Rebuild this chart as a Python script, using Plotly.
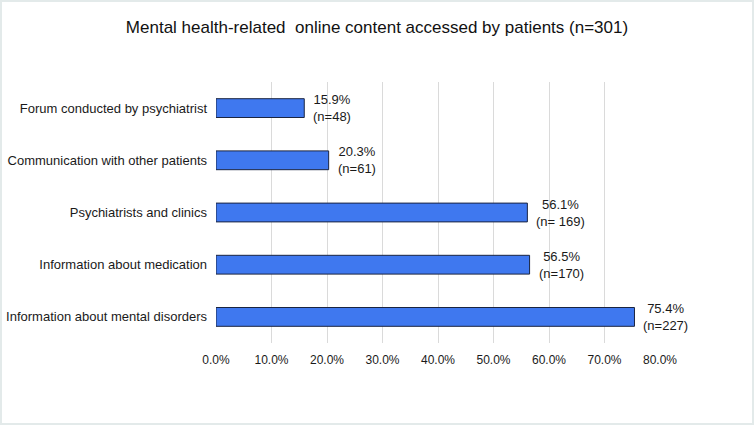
import plotly.graph_objects as go

categories = [
    "Information about mental disorders",
    "Information about medication",
    "Psychiatrists and clinics",
    "Communication with other patients",
    "Forum conducted by psychiatrist",
]
percent = [75.4, 56.5, 56.1, 20.3, 15.9]
counts = ["n=227", "n=170", "n= 169", "n=61", "n=48"]
x_ticks = [0, 10, 20, 30, 40, 50, 60, 70, 80]
x_ticklabels = ["0.0%", "10.0%", "20.0%", "30.0%", "40.0%", "50.0%", "60.0%", "70.0%", "80.0%"]

W, H = 754, 425
ML, MR, MT, MB = 216, 94, 82, 82

fig = go.Figure()
fig.add_trace(go.Bar(
    y=categories, x=percent, orientation="h",
    marker=dict(color="#3f78ef", line=dict(color="#1a2440", width=1)),
    width=0.36,
    hoverinfo="skip",
    cliponaxis=False,
))

for c, p, n in zip(categories, percent, counts):
    fig.add_annotation(
        x=p, y=c, xref="x", yref="y",
        text=f"{p:.1f}%<br>({n})",
        showarrow=False, xanchor="left", yanchor="middle",
        xshift=7, align="center",
        font=dict(family="Liberation Sans, Arial", size=13, color="#1a1a1a"),
    )

pw = W - ML - MR
ph = H - MT - MB
fig.add_shape(
    type="rect", xref="paper", yref="paper",
    x0=-(ML - 1) / pw, x1=1 + (MR - 1) / pw,
    y0=-(MB - 1) / ph, y1=1 + (MT - 1) / ph,
    line=dict(color="#e3eaea", width=2), layer="below",
)

fig.update_layout(
    width=W, height=H,
    margin=dict(l=ML, r=MR, t=MT, b=MB, autoexpand=False),
    paper_bgcolor="white", plot_bgcolor="white",
    showlegend=False,
    title=dict(
        text="Mental health-related  online content accessed by patients (n=301)",
        x=0.5, xanchor="center", y=1 - 27 / H, yanchor="middle",
        font=dict(family="Liberation Sans, Arial", size=17, color="#111"),
    ),
    font=dict(family="Liberation Sans, Arial", color="#1a1a1a"),
)
fig.update_xaxes(
    range=[0, 80], tickvals=x_ticks, ticktext=x_ticklabels,
    showgrid=True, gridcolor="#dadada", gridwidth=1,
    zeroline=False, showline=False, ticks="",
    tickfont=dict(size=12), ticklabelstandoff=8, automargin=False,
)
fig.update_yaxes(
    showgrid=False, zeroline=False, showline=False, ticks="",
    tickfont=dict(size=13), ticklabelstandoff=8, automargin=False,
)

fig.write_html(
    "out.html",
    config={"displayModeBar": False},
    post_script="document.body.style.margin='0';document.body.style.padding='0';",
)
